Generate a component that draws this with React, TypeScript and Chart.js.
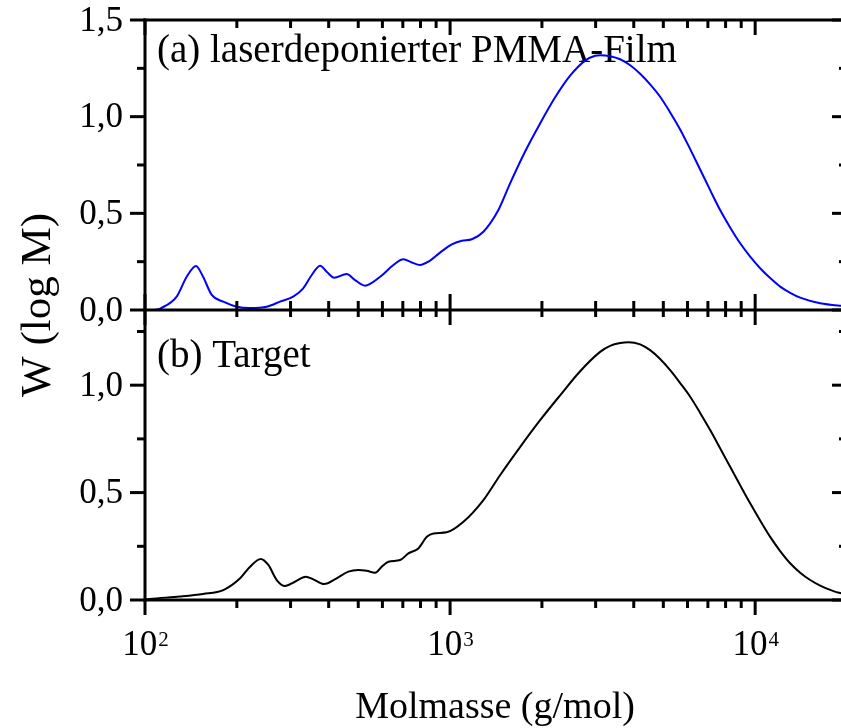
import React, { useEffect, useRef } from 'react';
import { Chart, registerables } from 'chart.js';

Chart.register(...registerables);

const FONT = '"Liberation Serif", "Times New Roman", Times, serif';

// (a) laserdeponierter PMMA-Film — molar mass (g/mol) and W(log M)
const massA = [108, 113, 127, 137, 147, 155, 165.5, 180.6, 199.8, 221, 250.6, 277, 306, 330, 352, 375, 394, 417, 458, 488, 526, 590, 652, 703, 749, 797, 849, 927, 1013, 1093, 1178, 1286, 1440, 1573, 1762, 1973, 2210, 2474, 2771, 2988, 3103, 3346, 3609, 3893, 4198, 4526, 4881, 5265, 5677, 6124, 6602, 7121, 7677, 8279, 8931, 9630, 10385, 11200, 12078, 13025, 14045, 16335, 19143, 20000];
const wA = [0.0, 0.01, 0.069, 0.172, 0.228, 0.172, 0.078, 0.043, 0.017, 0.01, 0.017, 0.043, 0.069, 0.112, 0.181, 0.229, 0.198, 0.167, 0.186, 0.155, 0.126, 0.172, 0.233, 0.262, 0.246, 0.233, 0.25, 0.297, 0.34, 0.358, 0.366, 0.405, 0.517, 0.655, 0.82, 0.965, 1.1, 1.212, 1.29, 1.315, 1.318, 1.313, 1.297, 1.266, 1.222, 1.167, 1.103, 1.022, 0.934, 0.832, 0.727, 0.62, 0.517, 0.427, 0.345, 0.276, 0.216, 0.165, 0.121, 0.089, 0.064, 0.035, 0.022, 0.02];

// (b) Target
const massB = [100, 103.8, 130, 155, 180.6, 205, 221, 239.5, 253.7, 270.3, 287.7, 310, 336.5, 356, 386, 425, 464, 500, 533, 568, 597, 628, 686, 730, 787, 839, 882, 975, 1106, 1286, 1458, 1696, 1973, 2295, 2669, 3103, 3346, 3609, 3842, 4198, 4526, 4881, 5265, 5677, 6124, 6602, 7121, 7677, 8279, 8931, 9630, 10385, 11200, 12078, 13025, 14045, 15147, 16335, 17617, 19143, 20000];
const wB = [0.002, 0.005, 0.016, 0.028, 0.046, 0.101, 0.155, 0.191, 0.163, 0.093, 0.065, 0.085, 0.108, 0.096, 0.074, 0.101, 0.132, 0.14, 0.136, 0.127, 0.155, 0.178, 0.186, 0.217, 0.24, 0.294, 0.31, 0.315, 0.364, 0.465, 0.581, 0.712, 0.837, 0.953, 1.065, 1.155, 1.183, 1.196, 1.2, 1.19, 1.163, 1.122, 1.07, 1.01, 0.946, 0.871, 0.791, 0.706, 0.62, 0.534, 0.45, 0.37, 0.294, 0.228, 0.171, 0.127, 0.093, 0.067, 0.047, 0.031, 0.028];

const X_MIN = 100;
const X_MAX = 20000;
const Y_TOP_MAX = 1.5;
const Y_BOTTOM_MAX = 1.35;

const xDecades = [100, 1000, 10000];
const xExponents = ['2', '3', '4'];
const xMinorTicks = [200, 300, 400, 500, 600, 700, 800, 900, 2000, 3000, 4000, 5000, 6000, 7000, 8000, 9000, 20000];
const yTopMajor = [0, 0.5, 1.0, 1.5];
const yTopMinor = [0.25, 0.75, 1.25];
const yBottomMajor = [0, 0.5, 1.0];
const yBottomMinor = [0.25, 0.75, 1.25];

const labelA = '(a) laserdeponierter PMMA-Film';
const labelB = '(b) Target';
const xTitle = 'Molmasse (g/mol)';
const yTitle = 'W (log M)';

const CANVAS_W = 900;
const CANVAS_H = 728;

const fmt = (v: number) => v.toFixed(1).replace('.', ',');

const framePlugin = {
  id: 'frame',
  beforeDatasetsDraw(chart: any) {
    const { ctx } = chart;
    const ca = chart.chartArea;
    const yA = chart.scales.yA;
    const yB = chart.scales.yB;
    ctx.save();
    ctx.fillStyle = '#000';
    ctx.font = `39px ${FONT}`;
    ctx.textAlign = 'left';
    ctx.textBaseline = 'alphabetic';
    ctx.fillText(labelA, ca.left + 12, yA.top + 42);
    ctx.fillText(labelB, ca.left + 12, yB.top + 57);
    ctx.restore();
  },
  afterDraw(chart: any) {
    const { ctx } = chart;
    const ca = chart.chartArea;
    const xs = chart.scales.x;
    const yA = chart.scales.yA;
    const yB = chart.scales.yB;
    const L = ca.left;
    const R = ca.right;
    const T = yA.getPixelForValue(Y_TOP_MAX);
    const M = yA.getPixelForValue(0);
    const B = yB.getPixelForValue(0);
    const MAJ = 15;
    const MIN = 8;

    ctx.save();
    ctx.strokeStyle = '#000';
    ctx.lineWidth = 3;
    ctx.lineCap = 'butt';
    const line = (x1: number, y1: number, x2: number, y2: number) => {
      ctx.beginPath();
      ctx.moveTo(x1, y1);
      ctx.lineTo(x2, y2);
      ctx.stroke();
    };
    // frame
    line(L, T - 1.5, L, B + 1.5);
    line(R, T - 1.5, R, B + 1.5);
    line(L - 1.5, T, R + 1.5, T);
    line(L - 1.5, M, R + 1.5, M);
    line(L - 1.5, B, R + 1.5, B);

    // x ticks
    const xTicks = [...xDecades.map((v) => ({ v, major: true })), ...xMinorTicks.map((v) => ({ v, major: false }))];
    for (const t of xTicks) {
      const px = xs.getPixelForValue(t.v);
      const len = t.major ? MAJ : MIN;
      line(px, T, px, T + len);
      line(px, M, px, M - (t.major ? 16 : 9));
      line(px, M, px, M + (t.major ? MAJ : 7));
      line(px, B, px, B + len);
    }
    // y ticks
    const yTicks = [
      ...yTopMajor.map((v) => ({ s: yA, v, major: true })),
      ...yTopMinor.map((v) => ({ s: yA, v, major: false })),
      ...yBottomMajor.map((v) => ({ s: yB, v, major: true })),
      ...yBottomMinor.map((v) => ({ s: yB, v, major: false })),
    ];
    for (const t of yTicks) {
      const py = t.s.getPixelForValue(t.v);
      const len = t.major ? MAJ : MIN;
      line(L - len, py, L, py);
      line(R - len, py, R, py);
    }

    // y tick labels
    ctx.fillStyle = '#000';
    ctx.font = `35px ${FONT}`;
    ctx.textAlign = 'right';
    ctx.textBaseline = 'alphabetic';
    for (const v of yTopMajor) {
      const py = yA.getPixelForValue(v);
      ctx.fillText(fmt(v), L - 22, py + 10.5);
    }
    for (const v of yBottomMajor) {
      const py = yB.getPixelForValue(v);
      ctx.fillText(fmt(v), L - 22, py + 10.5);
    }

    // x tick labels: 10^n
    ctx.textAlign = 'left';
    xDecades.forEach((v, i) => {
      const px = xs.getPixelForValue(v);
      ctx.font = `35px ${FONT}`;
      const w1 = ctx.measureText('10').width;
      ctx.font = `21px ${FONT}`;
      const w2 = ctx.measureText(xExponents[i]).width;
      const x0 = px - (w1 + w2) / 2;
      ctx.font = `35px ${FONT}`;
      ctx.fillText('10', x0, B + 55);
      ctx.font = `21px ${FONT}`;
      ctx.fillText(xExponents[i], x0 + w1 + 1, B + 46);
    });

    // x title
    ctx.font = `38px ${FONT}`;
    ctx.textAlign = 'center';
    ctx.fillText(xTitle, 495, B + 118);

    // y title
    ctx.save();
    ctx.translate(50, (T + B) / 2 - 5);
    ctx.rotate(-Math.PI / 2);
    ctx.font = `43px ${FONT}`;
    ctx.textAlign = 'center';
    ctx.textBaseline = 'alphabetic';
    ctx.fillText(yTitle, 0, 0);
    ctx.restore();

    ctx.restore();
  },
};

export default function App() {
  const ref = useRef<HTMLCanvasElement | null>(null);
  useEffect(() => {
    if (!ref.current) return;
    const hidden = {
      display: true,
      ticks: { display: false },
      grid: { display: false, drawTicks: false },
      border: { display: false },
      title: { display: false },
    };
    const chart = new Chart(ref.current, {
      type: 'line',
      data: {
        datasets: [
          {
            label: labelA,
            data: massA.map((m, i) => ({ x: m, y: wA[i] })),
            yAxisID: 'yA',
            borderColor: '#0000ff',
            borderWidth: 2,
            pointRadius: 0,
            cubicInterpolationMode: 'monotone',
            fill: false,
          },
          {
            label: labelB,
            data: massB.map((m, i) => ({ x: m, y: wB[i] })),
            yAxisID: 'yB',
            borderColor: '#000000',
            borderWidth: 2,
            pointRadius: 0,
            cubicInterpolationMode: 'monotone',
            fill: false,
          },
        ],
      },
      options: {
        animation: false,
        responsive: false,
        devicePixelRatio: 1,
        layout: { padding: { left: 145, top: 20, right: CANVAS_W - 847, bottom: CANVAS_H - 600 } },
        plugins: { legend: { display: false }, tooltip: { enabled: false } },
        scales: {
          x: { type: 'logarithmic', min: X_MIN, max: X_MAX, ...hidden },
          yB: { type: 'linear', position: 'left', stack: 'w', stackWeight: 1, min: 0, max: Y_BOTTOM_MAX, ...hidden },
          yA: { type: 'linear', position: 'left', stack: 'w', stackWeight: 1, min: 0, max: Y_TOP_MAX, ...hidden },
        },
      } as any,
      plugins: [framePlugin],
    });
    return () => chart.destroy();
  }, []);
  return (
    <div style={{ position: 'fixed', left: 0, top: 0, width: 841, height: 728, overflow: 'hidden', background: '#fff' }}>
      <canvas ref={ref} width={CANVAS_W} height={CANVAS_H} style={{ display: 'block' }} />
    </div>
  );
}
